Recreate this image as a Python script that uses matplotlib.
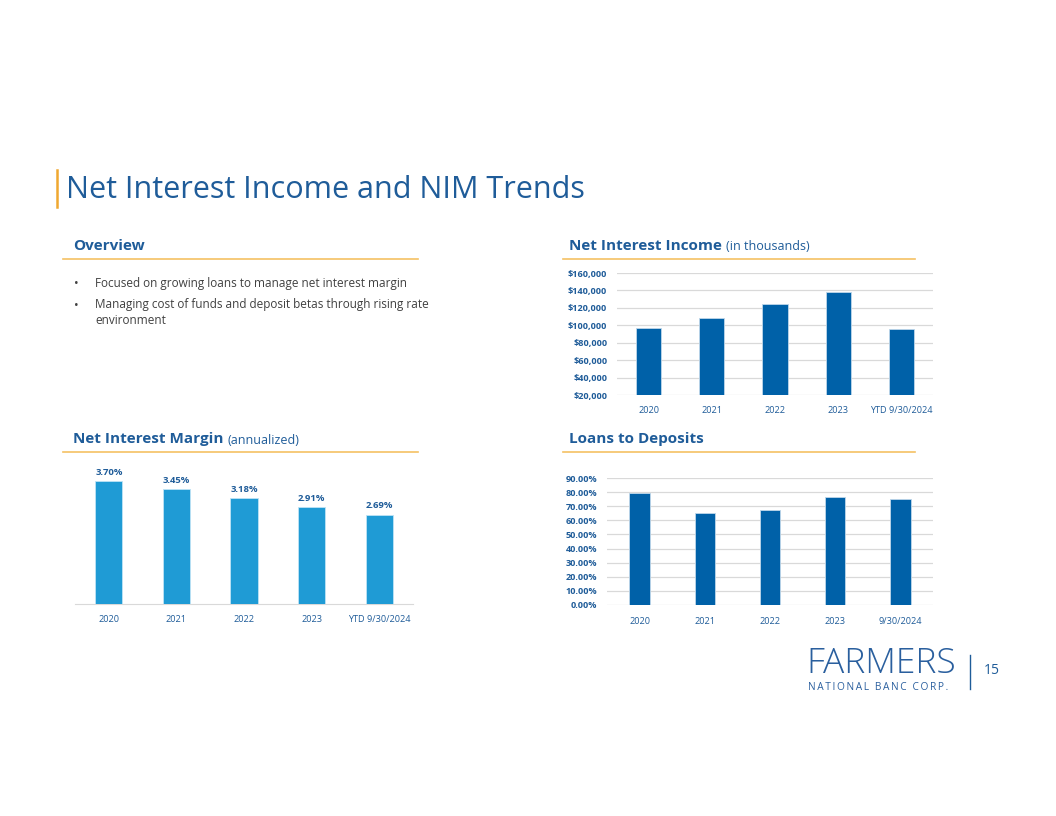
import matplotlib
matplotlib.use("Agg")
import matplotlib.pyplot as plt
from matplotlib.ticker import FuncFormatter

plt.rcParams['font.family'] = ['Open Sans', 'DejaVu Sans']

W, H = 1056, 816
AZUL = "#1F5C99"
AZUL_BARRA = "#0061A8"
CELESTE = "#1F9BD5"
NARANJA = "#F2B13C"
GRIS = "#404040"

anios = ["2020", "2021", "2022", "2023", "YTD 9/30/2024"]
ingreso_neto = [96400, 107900, 124100, 138000, 95600]
margen = [3.70, 3.45, 3.18, 2.91, 2.69]
anios_prestamos = ["2020", "2021", "2022", "2023", "9/30/2024"]
prestamos_depositos = [79.3, 65.5, 67.2, 76.2, 75.0]
puntos = [
    "Focused on growing loans to manage net interest margin",
    "Managing cost of funds and deposit betas through rising rate\nenvironment",
]


def fx(x):
    return x / W


def fy(y):
    return 1 - y / H


def ejes(fig, x0, y0, x1, y1):
    return fig.add_axes([fx(x0), fy(y1), (x1 - x0) / W, (y1 - y0) / H])


def encabezado(fig, x, y, negrita, normal, x0, x1):
    t = fig.text(fx(x), fy(y), negrita, fontsize=11, fontweight="bold",
                 color=AZUL, va="center", ha="left")
    if normal:
        fig.canvas.draw()
        bb = t.get_window_extent()
        fig.text(bb.x1 / W + 0.004, fy(y + 1), normal, fontsize=9, color=AZUL,
                 va="center", ha="left")
    fig.add_artist(plt.Line2D([fx(x0), fx(x1)], [fy(y + 13), fy(y + 13)],
                              color=NARANJA, lw=1.2, alpha=0.8))


def estilo(ax):
    for s in ax.spines.values():
        s.set_visible(False)
    ax.tick_params(length=0, labelsize=6.6, colors=AZUL)
    ax.set_xlim(-0.5, 4.5)


fig = plt.figure(figsize=(W / 100, H / 100), dpi=100)

# titulo
fig.add_artist(plt.Line2D([fx(57), fx(57)], [fy(170), fy(207)], color="#F0A830", lw=1.8))
fig.text(fx(66), fy(190), "Net Interest Income and NIM Trends", fontsize=22,
         color=AZUL, va="center", ha="left")

encabezado(fig, 73, 246, "Overview", None, 63, 418)
encabezado(fig, 569, 246, "Net Interest Income", "(in thousands)", 563, 915)
encabezado(fig, 73, 439, "Net Interest Margin", "(annualized)", 63, 418)
encabezado(fig, 569, 439, "Loans to Deposits", None, 563, 915)

ys = [284, 305]
for y, p in zip(ys, puntos):
    fig.text(fx(74), fy(y), "•", fontsize=9, color=GRIS, va="center", ha="left")
    fig.text(fx(95), fy(y - 7), p, fontsize=8.5, color=GRIS, va="top", ha="left",
             linespacing=1.25)

# Net Interest Income
ax1 = ejes(fig, 617, 273, 933, 395)
ax1.bar(range(5), ingreso_neto, width=0.4, color=AZUL_BARRA,
        edgecolor="#BFD7EA", linewidth=0.6, zorder=3)
ax1.set_ylim(20000, 160000)
ax1.set_yticks(range(20000, 160001, 20000))
ax1.yaxis.set_major_formatter(FuncFormatter(lambda v, p: f"${v:,.0f}"))
ax1.set_xticks(range(5), anios)
estilo(ax1)
for lab in ax1.get_yticklabels():
    lab.set_fontweight("bold")
ax1.tick_params(axis="y", pad=7)
ax1.tick_params(axis="x", pad=8)
ax1.grid(axis="y", color="#D9D9D9", lw=0.9, zorder=0)

# Net Interest Margin
ax2 = ejes(fig, 75, 461, 413, 604)
barras = ax2.bar(range(5), margen, width=0.4, color=CELESTE,
                 edgecolor="#BFE3F5", linewidth=0.6, zorder=3)
ax2.set_ylim(0, 4.3)
ax2.set_yticks([])
ax2.set_xticks(range(5), anios)
estilo(ax2)
ax2.spines["bottom"].set_visible(True)
ax2.spines["bottom"].set_color("#D9D9D9")
ax2.tick_params(axis="x", pad=8)
for b, v in zip(barras, margen):
    ax2.annotate(f"{v:.2f}%", (b.get_x() + b.get_width() / 2, v),
                 xytext=(0, 3), textcoords="offset points", ha="center",
                 va="bottom", fontsize=6.8, fontweight="bold", color=AZUL)

# Loans to Deposits
ax3 = ejes(fig, 607, 478, 933, 605)
ax3.bar(range(5), prestamos_depositos, width=0.31, color=AZUL_BARRA,
        edgecolor="#BFD7EA", linewidth=0.6, zorder=3)
ax3.set_ylim(0, 90)
ax3.set_yticks(range(0, 91, 10))
ax3.yaxis.set_major_formatter(FuncFormatter(lambda v, p: f"{v:.2f}%"))
ax3.set_xticks(range(5), anios_prestamos)
estilo(ax3)
for lab in ax3.get_yticklabels():
    lab.set_fontweight("bold")
ax3.tick_params(axis="y", pad=7)
ax3.tick_params(axis="x", pad=9)
ax3.grid(axis="y", color="#D9D9D9", lw=0.9, zorder=0)

# logo y numero de pagina
fig.text(fx(806), fy(664), "FARMERS", fontsize=25.5, color="#2A5F9E",
         va="center", ha="left", fontweight="light")
fig.text(fx(808), fy(687), "\u2009".join("NATIONAL BANC CORP."), fontsize=7.3,
         color="#2A5F9E", va="center", ha="left")
fig.add_artist(plt.Line2D([fx(970), fx(970)], [fy(655), fy(689)], color=AZUL, lw=1))
fig.text(fx(984), fy(671), "15", fontsize=10, color=AZUL, va="center", ha="left")

fig.savefig("out.png", dpi=100)
